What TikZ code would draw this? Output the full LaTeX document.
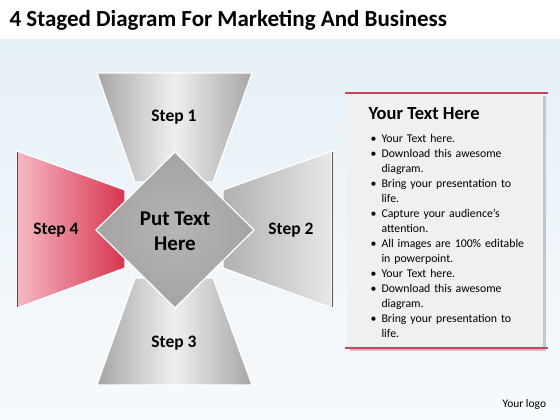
\documentclass[tikz,border=0pt]{standalone}
\usepackage{fontspec}
\setmainfont{Carlito}
\usetikzlibrary{positioning}

\definecolor{stepred}{HTML}{D7354F}
\definecolor{steppink}{HTML}{F2A7B4}
\definecolor{panelred}{HTML}{C9445A}
\definecolor{bgblue}{HTML}{E6F0F7}

% light in the middle, dark at both sides
\pgfdeclarehorizontalshading{wingshade}{100bp}{color(0bp)=(gray!70); color(25bp)=(gray!70); color(50bp)=(gray!12); color(75bp)=(gray!70); color(100bp)=(gray!70)}

\newcommand{\panelitem}[1]{\par\hangindent=14pt\hangafter=1\noindent\hspace*{3pt}\makebox[11pt][l]{\textbullet}#1}

\begin{document}
\begin{tikzpicture}[
    x=1pt, y=-1pt,
    % styles of the picture
    title/.style={anchor=base west, font=\bfseries\fontsize{23}{25}\selectfont},
    steplabel/.style={font=\bfseries\fontsize{17.5}{20}\selectfont},
    centerlabel/.style={align=center, font=\bfseries\fontsize{21}{25}\selectfont},
    greywing/.style={draw=white, line width=1.2pt},
    panelbar/.style={draw=panelred, line width=2.5pt},
    paneltext/.style={anchor=north west, text width=185pt, align=left, font=\fontsize{11.8}{15}\selectfont}
]
\useasboundingbox (0,0) rectangle (560,420);

% background
\fill[white] (0,0) rectangle (560,40);
\shade[top color=bgblue, bottom color=bgblue!35] (0,40) rectangle (560,420);

% title
\node (title) [title] at (6,27) {4 Staged Diagram For Marketing And Business};

% --- four wings ---
% step 1 (top)
\shade[greywing, shading=wingshade]
    (97,73) -- (252,73) -- (213,182) -- (135,182) -- cycle;
% step 3 (bottom)
\shade[greywing, shading=wingshade]
    (135,278) -- (213,278) -- (252,385) -- (97,385) -- cycle;
% step 2 (right)
\shade[greywing, left color=gray!62, right color=gray!18]
    (223,190) -- (332,151) -- (332,308) -- (223,268) -- cycle;
\draw[gray!70!black, line width=0.8pt] (332,152) -- (332,307);
% step 4 (left, red)
\shade[greywing, left color=steppink!80, right color=stepred]
    (17,151) -- (125,190) -- (125,268) -- (17,308) -- cycle;
\draw[stepred!70!black, line width=0.8pt] (17,152) -- (17,307);

% --- centre diamond ---
\shade[draw=white, line width=1.2pt, inner color=gray!58, outer color=gray!72]
    (175,152) -- (254,230) -- (175,308) -- (96,230) -- cycle;

% labels
\node (step1) [steplabel] at (174,117) {Step 1};
\node (step2) [steplabel] at (291,230) {Step 2};
\node (step3) [steplabel] at (174,343) {Step 3};
\node (step4) [steplabel] at (56,230) {Step 4};
\node (centre) [centerlabel] at (175,231) {Put Text\\Here};

% --- text panel ---
\fill[gray!45] (350,96) rectangle (546,351);
\fill[gray!12] (347,93) rectangle (543,348);
\draw[panelbar] (345,93) -- (548,93);
\draw[panelbar] (345,348) -- (548,348);
\node (panelhead) [anchor=base west, font=\bfseries\fontsize{18.5}{20}\selectfont] at (365,119) {Your Text Here};
\node (panellist) [paneltext, below=1pt of panelhead.south west, anchor=north west, xshift=-1pt] {%
\panelitem{Your Text here.}
\panelitem{Download this awesome\newline diagram.}
\panelitem{Bring your presentation to\newline life.}
\panelitem{Capture your audience’s\newline attention.}
\panelitem{All images are 100\% editable\newline in powerpoint.}
\panelitem{Your Text here.}
\panelitem{Download this awesome\newline diagram.}
\panelitem{Bring your presentation to\newline life.}\par};

% logo
\node (logo) [anchor=base west, font=\fontsize{11.5}{13}\selectfont] at (499,407) {Your logo};

\end{tikzpicture}
\end{document}
